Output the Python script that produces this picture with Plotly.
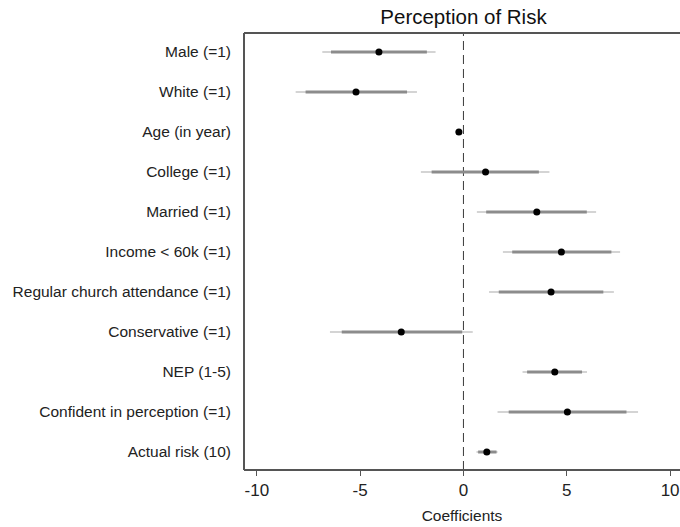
import plotly.graph_objects as go

labels = ["Male (=1)", "White (=1)", "Age (in year)", "College (=1)", "Married (=1)",
          "Income < 60k (=1)", "Regular church attendance (=1)", "Conservative (=1)",
          "NEP (1-5)", "Confident in perception (=1)", "Actual risk (10)"]
coef = [-4.09, -5.20, -0.22, 1.07, 3.55, 4.74, 4.24, -3.01, 4.42, 5.03, 1.13]
ci90_lo = [-6.41, -7.64, -0.36, -1.54, 1.10, 2.36, 1.71, -5.89, 3.08, 2.19, 0.71]
ci90_hi = [-1.77, -2.73, -0.08, 3.65, 5.97, 7.16, 6.77, -0.06, 5.74, 7.89, 1.60]
ci95_lo = [-6.83, -8.12, -0.40, -2.06, 0.65, 1.91, 1.24, -6.46, 2.86, 1.65, 0.63]
ci95_hi = [-1.35, -2.25, -0.04, 4.16, 6.42, 7.58, 7.28, 0.45, 5.98, 8.45, 1.65]
xticks = [-10, -5, 0, 5, 10]

pos = list(range(len(labels)))

def segs(lo, hi):
    xs, ys = [], []
    for i, (a, b) in enumerate(zip(lo, hi)):
        xs += [a, b, None]
        ys += [i, i, None]
    return xs, ys

fig = go.Figure()
x95, y95 = segs(ci95_lo, ci95_hi)
fig.add_trace(go.Scatter(x=x95, y=y95, mode="lines", line=dict(color="#d4d4d4", width=2),
                         hoverinfo="skip", showlegend=False))
x90, y90 = segs(ci90_lo, ci90_hi)
fig.add_trace(go.Scatter(x=x90, y=y90, mode="lines", line=dict(color="#8c8c8c", width=3),
                         hoverinfo="skip", showlegend=False))
fig.add_trace(go.Scatter(x=coef, y=pos, mode="markers",
                         marker=dict(color="black", size=7), showlegend=False))

# reference line at zero
fig.add_shape(type="line", x0=0, x1=0, y0=0, y1=1, yref="paper", xref="x",
              line=dict(color="#3a3a3a", width=1, dash="9px,5px"), layer="below")
# white cover at the right edge of the plot area (frame is open on the right)
fig.add_shape(type="rect", xref="paper", yref="paper", x0=0.992, x1=1.05, y0=0.002, y1=0.998,
              line=dict(width=0), fillcolor="white", layer="above")
# frame: left, top, bottom
frame = dict(color="#555555", width=2)
fig.add_shape(type="line", xref="paper", yref="paper", x0=0, x1=0, y0=0, y1=1, line=frame)
fig.add_shape(type="line", xref="paper", yref="paper", x0=0, x1=1.05, y0=1, y1=1, line=frame)
fig.add_shape(type="line", xref="paper", yref="paper", x0=0, x1=1.05, y0=0, y1=0, line=frame)

fig.update_layout(
    template="none",
    width=680, height=527,
    margin=dict(l=244, r=0, t=33, b=57, autoexpand=False),
    paper_bgcolor="white", plot_bgcolor="white",
    font=dict(family="Liberation Sans, Arial, sans-serif", color="#222222"),
    title=dict(text="Perception of Risk", xref="container", x=463.5 / 680, xanchor="center",
               y=0.968, yanchor="middle", font=dict(size=20.5, color="#111111")),
)
fig.update_xaxes(range=[-10.62, 10.48], tickvals=xticks,
                 ticktext=[str(t) for t in xticks], automargin=False,
                 showgrid=False, zeroline=False, showline=False, mirror=False,
                 ticks="outside", ticklen=5, tickcolor="#555555", tickwidth=1,
                 tickfont=dict(size=17, color="#222222"),
                 title=dict(text="Coefficients", font=dict(size=15.5, color="#222222"), standoff=10))
fig.update_yaxes(range=[10.45, -0.475], tickvals=pos, ticktext=labels, automargin=False,
                 showgrid=False, zeroline=False, showline=False, mirror=False,
                 ticks="", ticklabelstandoff=12,
                 tickfont=dict(size=15.5, color="#222222"))

fig.write_html("out.html")
